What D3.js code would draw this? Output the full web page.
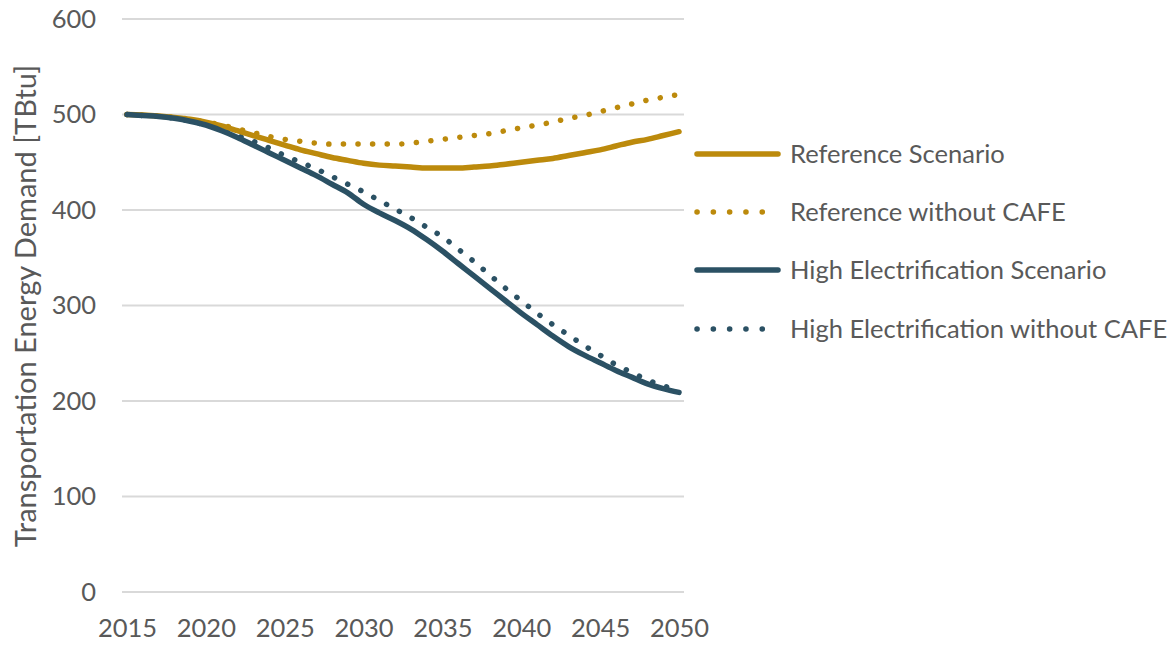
<!DOCTYPE html>
<html><head><meta charset="utf-8">
<script src="https://cdn.jsdelivr.net/npm/d3@7"></script>
<style>body{margin:0;background:#fff}svg{display:block}</style>
</head><body><svg id="c" width="1173" height="645"></svg>
<script>
const years = d3.range(2015, 2051);
const referenceScenario = [500,499.5,498.5,497,495,492,488,483,478,473,468,463,459,455,452,449,447,446,445,444,444,444,445,446,448,450,452,454,457,460,463,467,471,474,478,482];
const referenceNoCafe = [500,499.5,498.5,497,495,492,489,485,481,477,474,472,470,469,469,469,469,469,470,472,474,476,478,480,483,486,489,492,496,499,503,507,511,515,518,521];
const highElecScenario = [500,499,498,496,493,489,483,476,468,460,452,444,436,427,418,406,397,389,380,369,357,344,331,318,305,292,280,268,257,248,240,232,225,218,213,209];
const highElecNoCafe = [500,499,498,496,493,489,484,478,472,465,457,450,443,435,427,419,410,401,392,382,372,359,346,332,318,305,292,280,269,258,248,238,230,222,216,211];
const seriesNames = ["Reference Scenario","Reference without CAFE","High Electrification Scenario","High Electrification without CAFE"];
const yTicks = [0,100,200,300,400,500,600];
const xTicks = [2015,2020,2025,2030,2035,2040,2045,2050];
const yTitle = "Transportation Energy Demand [TBtu]";

const gold = "#BC8A0C", blue = "#2B5164", txt = "#595959";
const series = [
  {name: seriesNames[0], values: referenceScenario, color: gold, dotted: false},
  {name: seriesNames[1], values: referenceNoCafe, color: gold, dotted: true},
  {name: seriesNames[2], values: highElecScenario, color: blue, dotted: false},
  {name: seriesNames[3], values: highElecNoCafe, color: blue, dotted: true}
];
const font = "Lato, 'Open Sans', sans-serif";
const svg = d3.select("#c");
const x = d3.scaleLinear().domain([2015, 2050]).range([127, 679]);
const y = d3.scaleLinear().domain([0, 600]).range([592, 19]);

// gridlines
svg.append("g").selectAll("line").data(yTicks).join("line")
  .attr("x1", 122).attr("x2", 684)
  .attr("y1", d => y(d)).attr("y2", d => y(d))
  .attr("stroke", "#d9d9d9").attr("stroke-width", 2);

// y axis labels
const ya = svg.append("g").attr("transform", "translate(96,0)")
  .call(d3.axisLeft(y).tickValues(yTicks).tickSize(0).tickPadding(0));
ya.select(".domain").remove();
ya.selectAll("text").attr("font-size", 25.5).attr("fill", txt).attr("font-family", font);

// x axis labels
const xa = svg.append("g").attr("transform", "translate(0,619)")
  .call(d3.axisBottom(x).tickValues(xTicks).tickFormat(d3.format("d")).tickSize(0).tickPadding(0));
xa.select(".domain").remove();
xa.selectAll("text").attr("font-size", 25.5).attr("fill", txt).attr("font-family", font);

// y title
svg.append("text").attr("transform", "translate(36,306) rotate(-90)")
  .attr("text-anchor", "middle").attr("font-size", 29).attr("fill", txt)
  .attr("font-family", font).text(yTitle);

const line = d3.line().x((d, i) => x(years[i])).y(d => y(d)).curve(d3.curveMonotoneX);
// draw dotted first then solid
const order = [1, 3, 0, 2];
svg.append("g").selectAll("path").data(order.map(i => series[i])).join("path")
  .attr("d", s => line(s.values))
  .attr("fill", "none").attr("stroke", s => s.color)
  .attr("stroke-width", s => s.dotted ? 5.5 : 5.5)
  .attr("stroke-linecap", "round").attr("stroke-linejoin", "round")
  .attr("stroke-dasharray", s => s.dotted ? "0.1 14.5" : null);

// legend
const lg = svg.append("g");
const rowsY = [154, 212, 270, 329];
series.forEach((s, i) => {
  lg.append("line").attr("x1", 697).attr("x2", 778)
    .attr("y1", rowsY[i]).attr("y2", rowsY[i])
    .attr("stroke", s.color).attr("stroke-width", 5.5)
    .attr("stroke-linecap", "round")
    .attr("stroke-dasharray", s.dotted ? "0.1 16.2" : null);
  lg.append("text").attr("x", 790).attr("y", rowsY[i]).attr("dy", "0.35em")
    .attr("font-size", 25.5).attr("fill", txt).attr("font-family", font).text(s.name);
});
</script></body></html>
